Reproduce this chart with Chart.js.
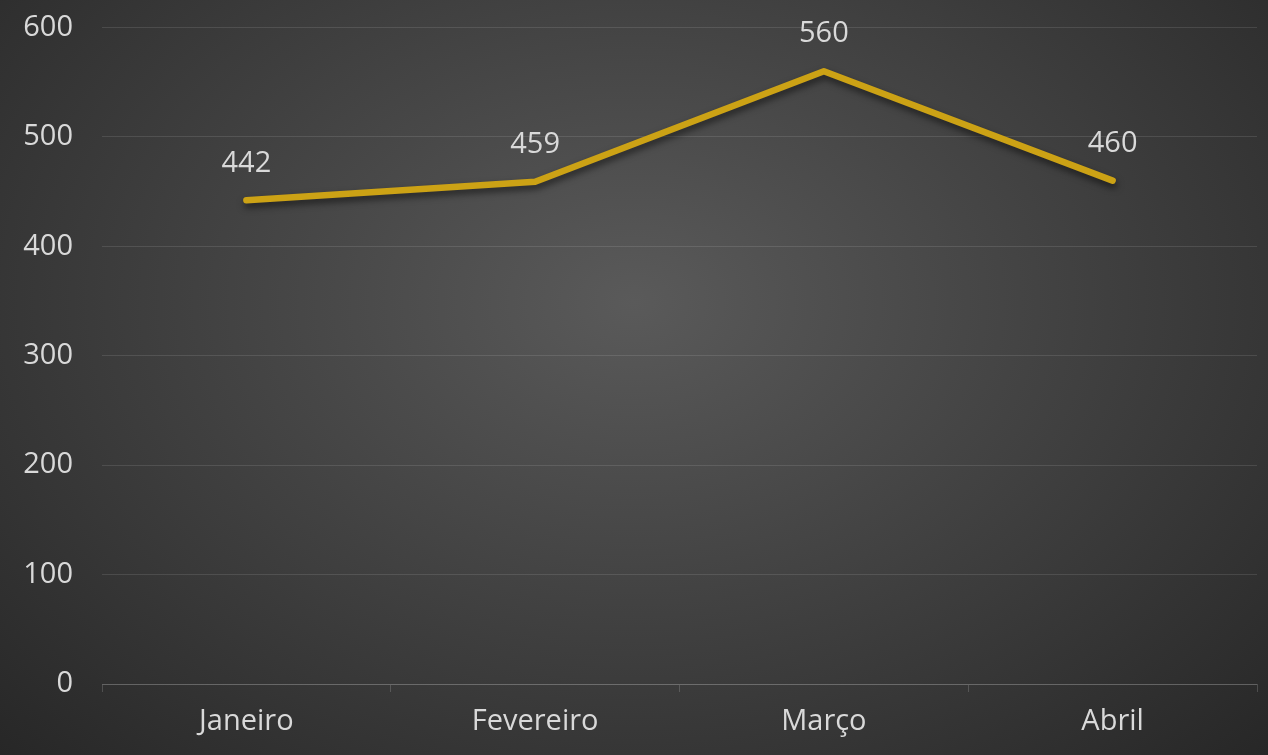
<!DOCTYPE html>
<html>
<head>
<meta charset="utf-8">
<script src="https://cdn.jsdelivr.net/npm/chart.js@4/dist/chart.umd.min.js"></script>
<style>
    html, body { margin: 0; padding: 0; }
    body {
        width: 1268px;
        height: 755px;
        overflow: hidden;
        background: radial-gradient(ellipse farthest-corner at 50% 40%, #5a5a5a 0%, #434343 45%, #272727 100%);
    }
    #wrap { width: 1268px; height: 774px; position: relative; margin-top: -19px; }
</style>
</head>
<body>
<div id="wrap"><canvas id="salesChart"></canvas></div>
<script>
// 資料
const months = ['Janeiro', 'Fevereiro', 'Março', 'Abril'];
const values = [442, 459, 560, 460];
const yTicks = [0, 100, 200, 300, 400, 500, 600];

const textColor = '#d9d9d9';
const lineColor = '#cca215';
const fontFamily = '"Open Sans", "DejaVu Sans", sans-serif';
const fontSize = 29;

// 線條陰影
const lineShadow = {
    id: 'lineShadow',
    beforeDatasetDraw(chart) {
        const ctx = chart.ctx;
        ctx.save();
        ctx.shadowColor = 'rgba(0, 0, 0, 0.55)';
        ctx.shadowBlur = 7;
        ctx.shadowOffsetX = 1;
        ctx.shadowOffsetY = 4;
    },
    afterDatasetDraw(chart) {
        chart.ctx.restore();
    }
};

// 數值標籤
const valueLabels = {
    id: 'valueLabels',
    afterDatasetsDraw(chart) {
        const ctx = chart.ctx;
        const meta = chart.getDatasetMeta(0);
        ctx.save();
        ctx.fillStyle = textColor;
        ctx.font = fontSize + 'px ' + fontFamily;
        ctx.textAlign = 'center';
        ctx.textBaseline = 'middle';
        meta.data.forEach((pt, i) => {
            ctx.fillText(String(chart.data.datasets[0].data[i]), pt.x, pt.y - 37);
        });
        ctx.restore();
    }
};

const chartInfo = {
    type: 'line',
    data: {
        labels: months,
        datasets: [
            {
                label: 'Vendas',
                data: values,
                borderColor: lineColor,
                borderWidth: 6.5,
                borderCapStyle: 'round',
                borderJoinStyle: 'round',
                pointRadius: 0,
                pointHoverRadius: 0,
                tension: 0,
                fill: false
            }
        ]
    },
    options: {
        responsive: true,
        maintainAspectRatio: false,
        animation: false,
        layout: {
            padding: { left: 0, top: 8, right: 11, bottom: 0 }
        },
        plugins: {
            legend: { display: false },
            tooltip: { enabled: false }
        },
        scales: {
            x: {
                offset: true,
                afterFit(scale) { scale.height = 71; },
                grid: {
                    offset: true,
                    drawOnChartArea: false,
                    drawTicks: true,
                    tickLength: 8,
                    color: 'rgba(255, 255, 255, 0.16)'
                },
                border: {
                    display: true,
                    color: 'rgba(255, 255, 255, 0.16)'
                },
                ticks: {
                    color: textColor,
                    padding: 12,
                    font: { family: fontFamily, size: fontSize }
                }
            },
            y: {
                min: 0,
                max: 600,
                afterFit(scale) { scale.width = 102; },
                afterBuildTicks(scale) {
                    scale.ticks = yTicks.map(v => ({ value: v }));
                },
                grid: {
                    drawTicks: false,
                    color: 'rgba(255, 255, 255, 0.11)'
                },
                border: { display: false },
                ticks: {
                    color: textColor,
                    padding: 29,
                    font: { family: fontFamily, size: fontSize }
                }
            }
        }
    },
    plugins: [lineShadow, valueLabels]
};

const salesChart = new Chart(document.getElementById('salesChart'), chartInfo);
</script>
</body>
</html>
